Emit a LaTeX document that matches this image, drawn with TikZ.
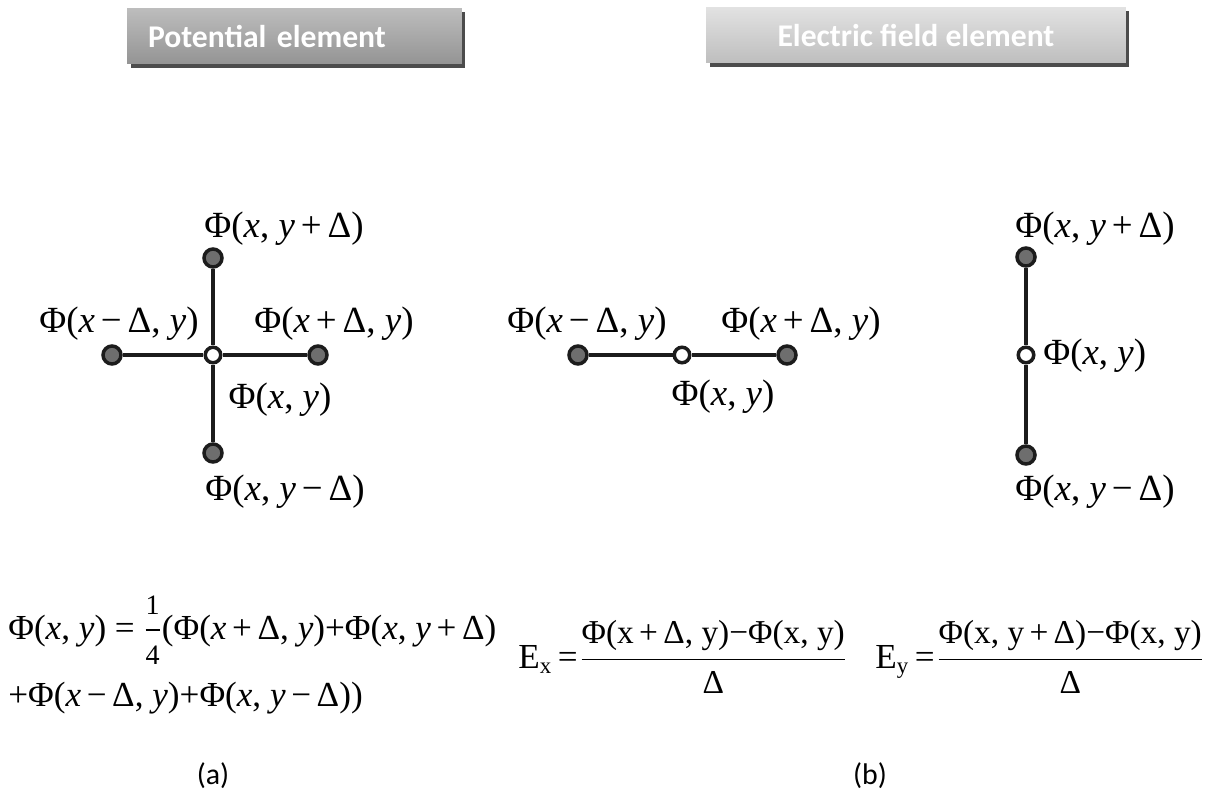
\documentclass[tikz,border=0pt]{standalone}
\usepackage{amsmath}
\usepackage{fontspec}
\setmainfont{Liberation Serif}
\newfontfamily\headfont{Carlito}
\usetikzlibrary{positioning, shadows}
\definecolor{DotGray}{HTML}{6E6E6E}
\definecolor{BarInk}{HTML}{1C1C1C}
\definecolor{HeadTopA}{HTML}{BDBDBD}
\definecolor{HeadBotA}{HTML}{949494}
\definecolor{HeadTopB}{HTML}{E2E2E2}
\definecolor{HeadBotB}{HTML}{BEBEBE}
\newcommand{\vx}{\textit{x}}
\newcommand{\vy}{\textit{y}}
\newcommand{\plusop}{\hspace{0.16em}+\hspace{0.16em}}
\newcommand{\minusop}{\hspace{0.16em}−\hspace{0.16em}}
\newcommand{\smallfs}{\fontsize{13}{16}\selectfont}

\begin{document}
\begin{tikzpicture}[x=0.02cm, y=-0.02cm,
  gdot/.style={circle, draw=BarInk, line width=2pt, fill=DotGray,
    minimum size=0.36cm, inner sep=0pt},
  ctr/.style={circle, draw=BarInk, line width=2pt, fill=white,
    minimum size=0.31cm, inner sep=0pt},
  bar/.style={draw=BarInk, line width=2.3pt},
  lbl/.style={font=\fontsize{21}{25}\selectfont, inner sep=0pt},
  formula/.style={font=\fontsize{20}{24}\selectfont, inner sep=0pt},
  head/.style={font=\headfont\bfseries\fontsize{18}{21}\selectfont,
    text=white, minimum height=1.12cm, inner ysep=0pt,
    drop shadow={shadow xshift=2pt, shadow yshift=-2pt, fill=black!70, opacity=1}},
  capt/.style={font=\headfont\fontsize{17}{20}\selectfont, inner sep=0pt}
]
\useasboundingbox (0,0) rectangle (1227,794);

% headers
\node[head, top color=HeadTopA, bottom color=HeadBotA,
  text width=5.86cm, inner xsep=0.42cm, align=left] (hpot) at (294.5,36) {Potential element};
\node[head, top color=HeadTopB, bottom color=HeadBotB,
  minimum width=8.4cm] (hfield) at (916,35) {Electric field element};

% (a) five point stencil
\node[ctr]  (c)  at (213,355) {};
\node[gdot] (t)  at (213,258) {};
\node[gdot] (b)  at (213,453) {};
\node[gdot] (l)  at (112,355) {};
\node[gdot] (r)  at (318,355) {};
\draw[bar] (t)--(c);
\draw[bar] (c)--(b);
\draw[bar] (l)--(c);
\draw[bar] (c)--(r);
\node[lbl] (tl) at (284,229) {Φ(\vx, \vy\plusop Δ)};
\node[lbl] (ll) at (119,324) {Φ(\vx\minusop Δ, \vy)};
\node[lbl] (rl) at (334,324) {Φ(\vx\plusop Δ, \vy)};
\node[lbl] (cl) at (280,400) {Φ(\vx, \vy)};
\node[lbl] (bl) at (285,492) {Φ(\vx, \vy\minusop Δ)};

% (b) horizontal element
\node[ctr]  (hc) at (682,355) {};
\node[gdot] (hl) at (578,355) {};
\node[gdot] (hr) at (787,355) {};
\draw[bar] (hl)--(hc);
\draw[bar] (hc)--(hr);
\node[lbl] (hll) at (587,324) {Φ(\vx\minusop Δ, \vy)};
\node[lbl] (hrl) at (801,324) {Φ(\vx\plusop Δ, \vy)};
\node[lbl] (hcl) at (723,397) {Φ(\vx, \vy)};

% (b) vertical element
\node[ctr]  (vc) at (1026,355) {};
\node[gdot] (vt) at (1026,257) {};
\node[gdot] (vb) at (1026,455) {};
\draw[bar] (vt)--(vc);
\draw[bar] (vc)--(vb);
\node[lbl] (vtl) at (1095,229) {Φ(\vx, \vy\plusop Δ)};
\node[lbl, anchor=west] (vcl) at (1043,356) {Φ(\vx, \vy)};
\node[lbl] (vbl) at (1095,492) {Φ(\vx, \vy\minusop Δ)};

% equations
\node[formula, anchor=west] (lap1) at (8,630)
  {Φ(\vx, \vy) = $\dfrac{\text{\fontsize{16}{18}\selectfont 1}}{\text{\fontsize{16}{18}\selectfont 4}}$(Φ(\vx\plusop Δ, \vy)+Φ(\vx, \vy\plusop Δ)};
\node[formula, anchor=west] (lap2) at (8,698)
  {+Φ(\vx\minusop Δ, \vy)+Φ(\vx, \vy\minusop Δ))};
\node[formula, anchor=west] (ex) at (518,657)
  {E$_{\text{\smallfs x}}$\,=\hspace{0.05em}$\dfrac{\text{\fontsize{19}{23}\selectfont Φ(x\plusop Δ, y)−Φ(x, y)}}{\text{\fontsize{19}{23}\selectfont Δ}}$};
\node[formula, anchor=west] (ey) at (875,657)
  {E$_{\text{\smallfs y}}$\,=\hspace{0.05em}$\dfrac{\text{\fontsize{19}{23}\selectfont Φ(x, y\plusop Δ)−Φ(x, y)}}{\text{\fontsize{19}{23}\selectfont Δ}}$};

% captions
\node[capt] (capa) at (213,776) {(a)};
\node[capt] (capb) at (870,776) {(b)};
\end{tikzpicture}
\end{document}
